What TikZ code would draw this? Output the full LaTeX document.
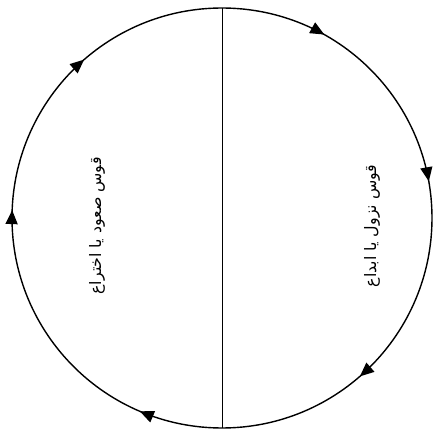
\documentclass[tikz,border=0pt]{standalone}
\usepackage{fontspec}
\newfontfamily\arabicfont[Script=Arabic]{DejaVu Sans}
\TeXXeTstate=1
\usetikzlibrary{arrows.meta,decorations.markings}

\begin{document}
\begin{tikzpicture}[x=0.03cm,y=0.03cm,
    cycle/.style={line width=1.2pt,postaction={decorate},decoration={markings,
      mark=at position .081 with {\arrow{Triangle[length=4.2mm,width=3.6mm]}},
      mark=at position .222 with {\arrow{Triangle[length=4.2mm,width=3.6mm]}},
      mark=at position .386 with {\arrow{Triangle[length=4.2mm,width=3.6mm]}},
      mark=at position .564 with {\arrow{Triangle[length=4.2mm,width=3.6mm]}},
      mark=at position .756 with {\arrow{Triangle[length=4.2mm,width=3.6mm]}},
      mark=at position .886 with {\arrow{Triangle[length=4.2mm,width=3.6mm]}}}},
    arclabel/.style={font=\arabicfont\fontsize{13.5}{16}\selectfont,rotate=90,inner sep=1pt}]
    \useasboundingbox (0,0) rectangle (434,436);
    \coordinate (top) at (222,428);
    \coordinate (bottom) at (222,8);
    \draw[cycle] (top) arc[start angle=90,end angle=-270,radius=210];
    \draw[line width=.7pt] (top) -- (bottom);
    \node[arclabel] (ascent) at (97,210) {\beginR قوس صعود یا اختراع\endR};
    \node[arclabel] (descent) at (372,210) {\beginR قوس نزول یا ابداع\endR};
\end{tikzpicture}
\end{document}
